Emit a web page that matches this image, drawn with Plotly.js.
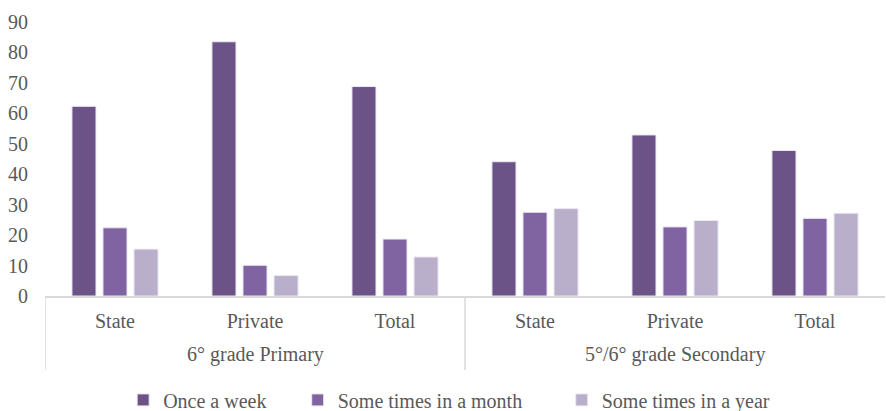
<!DOCTYPE html>
<html>
<head>
<meta charset="utf-8">
<script src="https://cdn.plot.ly/plotly-3.0.1.min.js"></script>
<style>html,body{margin:0;padding:0;background:#fff;}#chart{width:886px;height:411px;}</style>
</head>
<body>
<div id="chart"></div>
<script>
const groupNames = ["6° grade Primary","5°/6° grade Secondary"];
const groups = ["6° grade Primary","6° grade Primary","6° grade Primary","5°/6° grade Secondary","5°/6° grade Secondary","5°/6° grade Secondary"];
const schools = ["State","Private","Total","State","Private","Total"];
const seriesNames = ["Once a week","Some times in a month","Some times in a year"];
const onceWeek = [62.3, 83.5, 68.8, 44.1, 52.9, 47.8];
const timesMonth = [22.4, 10.1, 18.7, 27.5, 22.7, 25.5];
const timesYear = [15.4, 6.7, 12.8, 28.7, 24.8, 27.2];
const colors = ["#6b5388","#8064a2","#b9afcb"];
const values = [onceWeek, timesMonth, timesYear];

// unique category keys, displayed as school names
const keys = schools.map((s,i)=>groups[i]+" | "+s);
const legendIds = ["legend","legend2","legend3"];

const traces = values.map((v,i)=>({
  type:"bar",
  name: seriesNames[i],
  legend: legendIds[i],
  x:keys,
  y:v,
  marker:{color:colors[i], line:{color:"#ece8f1", width:1}},
  hoverinfo:"none"
}));

const FAM = "Liberation Serif";
const mkFont = ()=>({family:FAM, size:20, color:"#595959"});

const annotations = groupNames.map((g,gi)=>({
  xref:"x", yref:"paper",
  x: keys[gi*3+1], y:-0.215,
  text:g, showarrow:false,
  xanchor:"center", yanchor:"middle",
  font:mkFont()
}));

const dividerPos = [-0.5, 2.5];
const shapes = dividerPos.map(p=>({
  type:"line", xref:"x", yref:"paper",
  x0:p, x1:p, y0:0, y1:-0.27,
  line:{color:"#d9d9d9", width:1.5}
}));

const legendX = [0.139, 0.336, 0.634];
const mkLegend = (x)=>({orientation:"h", xref:"container", yref:"container", x:x, xanchor:"left", y:0.027, yanchor:"middle", font:mkFont(), itemwidth:30, bgcolor:"rgba(0,0,0,0)"});

const layout = {
  width:886, height:411,
  margin:{l:45, r:1, t:22, b:115},
  paper_bgcolor:"#fff", plot_bgcolor:"#fff",
  font: mkFont(),
  barmode:"group",
  bargap:0.335,
  bargroupgap:0.225,
  showlegend:true,
  legend: mkLegend(legendX[0]),
  legend2: mkLegend(legendX[1]),
  legend3: mkLegend(legendX[2]),
  xaxis:{
    type:"category",
    tickvals:keys, ticktext:schools,
    range:[-0.5,5.5],
    showline:true, linecolor:"#d9d9d9", linewidth:1.5,
    showgrid:false, zeroline:false,
    ticks:"outside", ticklen:6, tickcolor:"rgba(0,0,0,0)",
    tickfont:mkFont(), automargin:false
  },
  yaxis:{
    range:[0,90], dtick:10, showgrid:false, zeroline:false, showline:false,
    ticks:"outside", ticklen:12, tickcolor:"rgba(0,0,0,0)",
    tickfont:mkFont(), automargin:false
  },
  annotations: annotations,
  shapes: shapes
};
Plotly.newPlot("chart", traces, layout, {displayModeBar:false, staticPlot:true});
</script>
</body>
</html>
